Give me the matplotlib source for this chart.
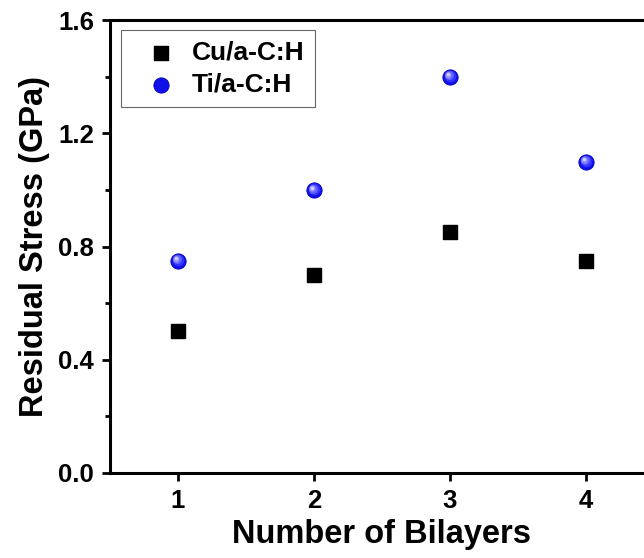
import matplotlib
matplotlib.use("Agg")
import matplotlib.pyplot as plt
import matplotlib.transforms as mtransforms
from matplotlib.ticker import MultipleLocator

plt.rcParams['font.family'] = ['Liberation Sans', 'DejaVu Sans']
plt.rcParams['font.weight'] = 'bold'

bilayers = [1, 2, 3, 4]
cu_stress = [0.50, 0.70, 0.85, 0.75]
ti_stress = [0.75, 1.00, 1.40, 1.10]

fig = plt.figure(figsize=(6.44, 5.58), dpi=100)
ax = fig.add_axes([110/644, 1-473/558, 544/644, 453/558])

ax.scatter(bilayers, cu_stress, marker='s', s=13**2*0.52, color='black', label='Cu/a-C:H', zorder=3)
ax.scatter(bilayers, ti_stress, marker='o', s=11**2, color='#1010e8', edgecolors='#0000c0',
           linewidths=0.6, label='Ti/a-C:H', zorder=3)
shades = [('#3030ff', 8.5, 0.35), ('#6060ff', 6.5, 0.9), ('#9090ff', 4.5, 1.3), ('#d0d0ff', 2.5, 1.6)]
for col, sz, off in shades:
    ax.plot(bilayers, ti_stress, 'o', ms=sz, color=col, mec='none', zorder=4,
            transform=ax.transData + mtransforms.ScaledTranslation(-off/72, off/72, fig.dpi_scale_trans))

ax.set_xlim(0.5, 4.5)
ax.set_ylim(0, 1.6)
ax.xaxis.set_major_locator(MultipleLocator(1))
ax.yaxis.set_minor_locator(MultipleLocator(0.2))
ax.set_yticks([0, 0.4, 0.8, 1.2, 1.6])
ax.set_yticklabels(['0.0', '0.4', '0.8', '1.2', '1.6'])
ax.tick_params(axis='both', which='major', direction='out', length=6, width=2, labelsize=18.5, pad=5.5)
ax.tick_params(axis='y', which='minor', direction='out', length=3.5, width=2)
ax.tick_params(axis='x', which='minor', length=0)
for sp in ax.spines.values():
    sp.set_linewidth(2.2)

ax.set_xlabel('Number of Bilayers', fontsize=23.5, fontweight='bold', labelpad=4)
ax.set_ylabel('Residual Stress (GPa)', fontsize=23.5, fontweight='bold', labelpad=6)

leg = ax.legend(loc='upper left', fontsize=19, frameon=True, fancybox=False, edgecolor='#404040',
                handletextpad=0.08, borderpad=0.4, labelspacing=0.3, handlelength=2.2,
                borderaxespad=0, bbox_to_anchor=(11/544, 1 - 10/453))
leg.get_frame().set_linewidth(0.8)
for t in leg.get_texts():
    t.set_fontweight('bold')

fig.savefig('out.png', dpi=100)
